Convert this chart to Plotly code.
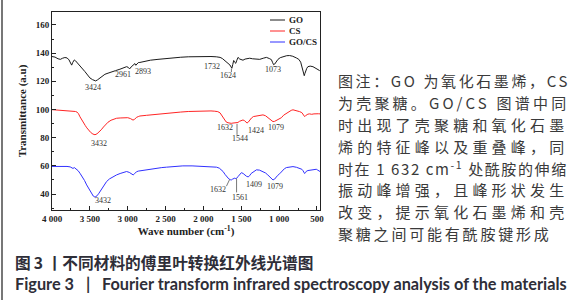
import plotly.graph_objects as go

# ---------------- data ----------------
go_wn = [4000, 3960, 3920, 3890, 3860, 3830, 3800, 3775, 3755, 3740, 3725, 3705, 3690, 3670, 3650, 3630,
         3600, 3565, 3530, 3499, 3465, 3440, 3424, 3400, 3367, 3335, 3301, 3260, 3213, 3160, 3103, 3060,
         3015, 2995, 2975, 2955, 2930, 2905, 2893, 2880, 2860, 2839, 2780, 2700, 2600, 2500, 2400, 2300,
         2200, 2100, 2000, 1900, 1830, 1780, 1750, 1732, 1710, 1690, 1670, 1650, 1635, 1624, 1612, 1600,
         1585, 1573, 1558, 1543, 1520, 1500, 1477, 1450, 1420, 1388, 1350, 1300, 1256, 1210, 1168, 1130,
         1102, 1085, 1073, 1059, 1040, 1015, 985, 949, 900, 861, 820, 772, 740, 715, 700, 688, 676, 668,
         660, 650, 635, 620, 590, 553, 520, 488, 470, 460]
go_t = [137.6, 137.2, 136.0, 135.6, 136.4, 136.9, 136.6, 135.2, 133.0, 131.5, 133.5, 135.2, 134.6, 133.4, 132.4, 131.6,
        129.6, 126.9, 124.5, 122.4, 121.2, 120.5, 120.3, 121.0, 122.2, 123.8, 125.0, 125.8, 126.9, 127.6, 128.6, 129.4,
        130.4, 130.0, 128.8, 130.2, 131.8, 132.6, 131.4, 132.2, 133.3, 133.4, 134.2, 135.0, 135.6, 136.2, 136.7, 137.1,
        137.4, 137.6, 137.7, 137.6, 137.4, 137.0, 136.2, 135.4, 134.2, 133.0, 132.6, 131.6, 130.2, 129.3, 132.0, 134.8,
        133.4, 132.8, 135.0, 137.0, 135.8, 135.2, 135.0, 135.8, 136.2, 136.4, 136.0, 135.6, 135.6, 136.4, 137.0, 136.2,
        135.4, 133.2, 131.8, 132.2, 134.0, 135.6, 136.8, 137.6, 138.2, 138.3, 137.8, 136.6, 135.6, 133.6, 130.5, 127.0, 124.2, 124.0,
        125.5, 127.3, 129.2, 130.4, 130.8, 130.4, 129.6, 128.6, 127.8, 127.2]

cs_wn = [4000, 3950, 3900, 3850, 3800, 3750, 3720, 3690, 3670, 3650, 3630, 3608, 3585, 3560, 3540, 3521,
         3490, 3460, 3432, 3405, 3380, 3350, 3320, 3290, 3260, 3220, 3180, 3147, 3100, 3050, 3000, 2965,
         2945, 2930, 2910, 2885, 2860, 2839, 2750, 2650, 2550, 2487, 2400, 2300, 2200, 2100, 2000, 1900,
         1850, 1810, 1780, 1760, 1745, 1720, 1700, 1675, 1650, 1632, 1610, 1590, 1570, 1556, 1544, 1525,
         1500, 1477, 1455, 1440, 1424, 1408, 1390, 1365, 1340, 1300, 1260, 1213, 1180, 1150, 1125, 1100,
         1081, 1060, 1040, 1015, 993, 970, 940, 904, 870, 840, 817, 790, 760, 729, 700, 685, 672, 663,
         652, 638, 620, 597, 570, 540, 510, 480, 460]
cs_t = [99.9, 99.7, 99.6, 99.5, 99.4, 99.3, 99.0, 98.6, 98.2, 97.0, 94.8, 92.6, 90.6, 88.6, 87.0, 85.5,
        83.8, 82.6, 82.1, 82.8, 84.0, 85.6, 87.6, 89.6, 91.0, 92.4, 93.2, 93.8, 94.0, 94.2, 94.2, 93.6,
        92.8, 92.5, 93.0, 94.4, 95.0, 95.4, 95.9, 96.5, 97.0, 97.4, 97.8, 98.2, 98.6, 98.9, 99.0, 99.0,
        98.8, 98.5, 97.6, 96.0, 94.0, 92.2, 91.2, 90.6, 90.3, 90.2, 90.4, 90.6, 90.9, 90.8, 90.8, 91.6,
        92.4, 92.6, 92.0, 91.0, 90.4, 91.0, 92.4, 94.0, 95.0, 95.4, 95.8, 96.2, 95.6, 94.4, 93.0, 91.9,
        91.4, 91.6, 92.2, 92.9, 93.1, 94.2, 96.0, 97.4, 98.6, 99.4, 99.8, 99.5, 99.0, 98.5, 97.8, 96.8, 95.4, 95.0,
        95.6, 96.3, 96.7, 96.9, 96.6, 96.9, 97.2, 97.0, 96.9]

gocs_wn = [4000, 3950, 3900, 3850, 3802, 3760, 3740, 3723, 3705, 3680, 3655, 3631, 3600, 3570, 3542, 3510,
           3480, 3455, 3432, 3405, 3380, 3367, 3330, 3300, 3279, 3240, 3200, 3147, 3100, 3050, 3015, 2980,
           2950, 2928, 2910, 2885, 2860, 2839, 2750, 2650, 2550, 2487, 2400, 2272, 2150, 2050, 1950, 1880,
           1828, 1790, 1760, 1740, 1715, 1690, 1665, 1645, 1632, 1615, 1600, 1586, 1572, 1561, 1540, 1520,
           1498, 1475, 1450, 1430, 1409, 1390, 1370, 1336, 1300, 1260, 1230, 1213, 1180, 1150, 1120, 1100,
           1081, 1060, 1040, 1020, 993, 960, 930, 904, 860, 817, 770, 729, 700, 685, 672, 663,
           652, 640, 620, 597, 570, 540, 509, 490, 470, 460]
gocs_t = [59.6, 59.7, 59.6, 59.7, 59.6, 59.3, 58.8, 58.2, 58.8, 58.0, 56.6, 54.8, 52.5, 49.6, 46.5, 43.2,
          40.5, 38.6, 37.8, 38.8, 40.6, 41.8, 44.8, 47.4, 48.9, 50.8, 52.2, 53.6, 54.6, 55.5, 56.0, 55.4,
          54.2, 53.6, 54.4, 55.8, 56.3, 56.5, 57.4, 58.2, 58.8, 59.1, 59.5, 60.0, 60.0, 59.8, 59.5, 59.3,
          59.1, 58.4, 57.2, 56.0, 54.0, 52.2, 50.8, 50.2, 50.0, 50.6, 51.2, 51.3, 51.0, 51.2, 52.6, 54.2,
          55.2, 54.6, 53.4, 52.6, 52.2, 53.0, 54.6, 55.8, 57.2, 57.0, 56.4, 56.0, 55.0, 53.6, 51.8, 50.6,
          50.0, 50.6, 52.0, 53.2, 54.4, 56.6, 58.0, 58.8, 59.3, 59.5, 59.0, 58.3, 57.6, 56.6, 55.2, 54.6,
          55.2, 56.2, 56.7, 56.8, 57.0, 57.3, 57.6, 57.0, 56.4, 56.0]

series_names = ["GO", "CS", "GO/CS"]
series_colors = ["#1a1a1a", "#ff2424", "#3030ff"]

# peak labels (text, wavenumber, transmittance)
go_lbl = ["3424", "2961", "2893", "1732", "1624", "1073"]
go_lbl_wn = [3459, 3063, 2800, 1890, 1679, 1085]
go_lbl_t = [115.3, 124.5, 126.7, 130.2, 123.8, 128.1]

cs_lbl = ["3432", "1632", "1544", "1424", "1079"]
cs_lbl_wn = [3380, 1718, 1520, 1309, 1039]
cs_lbl_t = [76.1, 87.0, 79.2, 84.8, 87.0]

gocs_lbl = ["3432", "1632", "1561", "1409", "1079"]
gocs_lbl_wn = [3323, 1810, 1520, 1336, 1048]
gocs_lbl_t = [35.4, 43.5, 37.8, 46.5, 45.3]

# leader lines (x0, y0, x1, y1) in data units
leaders = [(1556, 89.8, 1556, 82.0), (1562, 51.0, 1562, 41.2), (1696, 45.6, 1655, 50.2), (1630, 129.0, 1630, 126.6)]

x_tickvals = [4000, 3500, 3000, 2500, 2000, 1500, 1000, 500]
x_ticktext = ["4 000", "3 500", "3 000", "2 500", "2 000", "1 500", "1 000", "500"]
y_tickvals = [40, 60, 80, 100, 120, 140, 160]

note_lines = [
    "图注：GO 为氧化石墨烯，CS",
    "为壳聚糖。GO/CS 图谱中同",
    "时出现了壳聚糖和氧化石墨",
    "烯的特征峰以及重叠峰，同",
    "时在 1 632 cm<sup>-1</sup> 处酰胺的伸缩",
    "振动峰增强，且峰形状发生",
    "改变，提示氧化石墨烯和壳",
    "聚糖之间可能有酰胺键形成",
]
note_spacing = [2.6, 3.2, 4.2, 4.2, 1.6, 4.2, 4.2, 2.8]

cap_cn = "图\u20093 丨不同材料的傅里叶转换红外线光谱图"
cap_en = "Figure 3\u00a0\u00a0\u00a0|\u00a0\u00a0\u00a0Fourier transform infrared spectroscopy analysis of the materials"

# ---------------- layout geometry ----------------
W, H = 573, 300
ML, MR, MT, MB = 52, 253, 12, 90
PW = W - ML - MR
PH = H - MT - MB


def px(x):
    return (x - ML) / PW


def py(y):
    return (H - MB - y) / PH


SERIF = "Liberation Serif"
CJK = "Noto Sans CJK SC"

fig = go.Figure()
for name, wn, t, c in zip(series_names, [go_wn, cs_wn, gocs_wn], [go_t, cs_t, gocs_t], series_colors):
    fig.add_trace(go.Scatter(x=wn, y=t, mode="lines", name=name,
                             line=dict(color=c, width=1), showlegend=False))

annotations = []
for lbls, wns, ts in [(go_lbl, go_lbl_wn, go_lbl_t), (cs_lbl, cs_lbl_wn, cs_lbl_t),
                      (gocs_lbl, gocs_lbl_wn, gocs_lbl_t)]:
    for s, xw, yt in zip(lbls, wns, ts):
        annotations.append(dict(x=xw, y=yt, xref="x", yref="y", text=s, showarrow=False,
                                font=dict(family=SERIF, size=8, color="#333333")))

shapes = []
for (x0, y0, x1, y1) in leaders:
    shapes.append(dict(type="line", xref="x", yref="y", x0=x0, y0=y0, x1=x1, y1=y1,
                       line=dict(color="#555555", width=0.8)))

# manual legend
for i, (name, c) in enumerate(zip(series_names, series_colors)):
    yy = 20 + i * 11
    shapes.append(dict(type="line", xref="paper", yref="paper", x0=px(270), x1=px(285),
                       y0=py(yy), y1=py(yy), line=dict(color=c, width=1)))
    annotations.append(dict(x=px(287), y=py(yy), xref="paper", yref="paper", text="<b>%s</b>" % name,
                            showarrow=False, xanchor="left", yanchor="middle",
                            font=dict(family=SERIF, size=9, color="#222222")))

# left page border line
shapes.append(dict(type="line", xref="paper", yref="paper", x0=px(2), x1=px(2), y0=py(0), y1=py(300),
                   line=dict(color="#4a4a4a", width=1.5)))

# right-hand note
for i, (line, sp) in enumerate(zip(note_lines, note_spacing)):
    annotations.append(dict(x=px(336), y=py(80.7 + i * 21.8), xref="paper", yref="paper",
                            text='<span style="letter-spacing:%.1fpx">%s</span>' % (sp, line),
                            showarrow=False, xanchor="left", yanchor="middle", align="left",
                            font=dict(family=CJK, size=15, color="#3a3a3a")))

# captions
annotations.append(dict(x=px(13), y=py(262), xref="paper", yref="paper",
                        text="<b>" + cap_cn + "</b>", showarrow=False, xanchor="left", yanchor="middle",
                        align="left", font=dict(family=CJK, size=15.7, color="#2e2e38")))
annotations.append(dict(x=px(13), y=py(283), xref="paper", yref="paper",
                        text="<b>" + cap_en + "</b>", showarrow=False, xanchor="left", yanchor="middle",
                        align="left", font=dict(family="Lato", size=16.3, color="#2e2e38")))

fig.update_layout(
    width=W, height=H, margin=dict(l=ML, r=MR, t=MT, b=MB, pad=0),
    paper_bgcolor="white", plot_bgcolor="white",
    annotations=annotations, shapes=shapes, showlegend=False,
    xaxis=dict(range=[4000, 460], tickvals=x_tickvals, ticktext=x_ticktext,
               ticks="inside", ticklen=4, tickwidth=1, tickcolor="#222",
               minor=dict(ticks="inside", ticklen=2, dtick=250, tick0=0, tickcolor="#222"),
               showline=True, linecolor="#222", linewidth=1, mirror=True, showgrid=False, zeroline=False,
               tickfont=dict(family=SERIF, size=9, color="#222", weight="bold"),
               title=dict(text="<b>Wave number (cm<sup>-1</sup>)</b>", standoff=4,
                          font=dict(family=SERIF, size=11, color="#222"))),
    yaxis=dict(range=[28.7, 169.2], tickvals=y_tickvals,
               ticks="inside", ticklen=4, tickwidth=1, tickcolor="#222",
               minor=dict(ticks="inside", ticklen=2, dtick=10, tick0=0, tickcolor="#222"),
               showline=True, linecolor="#222", linewidth=1, mirror=True, showgrid=False, zeroline=False,
               tickfont=dict(family=SERIF, size=9, color="#222", weight="bold"),
               title=dict(text="<b>Transmittance (a.u)</b>", standoff=6,
                          font=dict(family=SERIF, size=11, color="#222"))),
)

fig.write_html("out.html", config={"displayModeBar": False},
               post_script="document.body.style.margin='0';document.body.style.overflow='hidden';")
